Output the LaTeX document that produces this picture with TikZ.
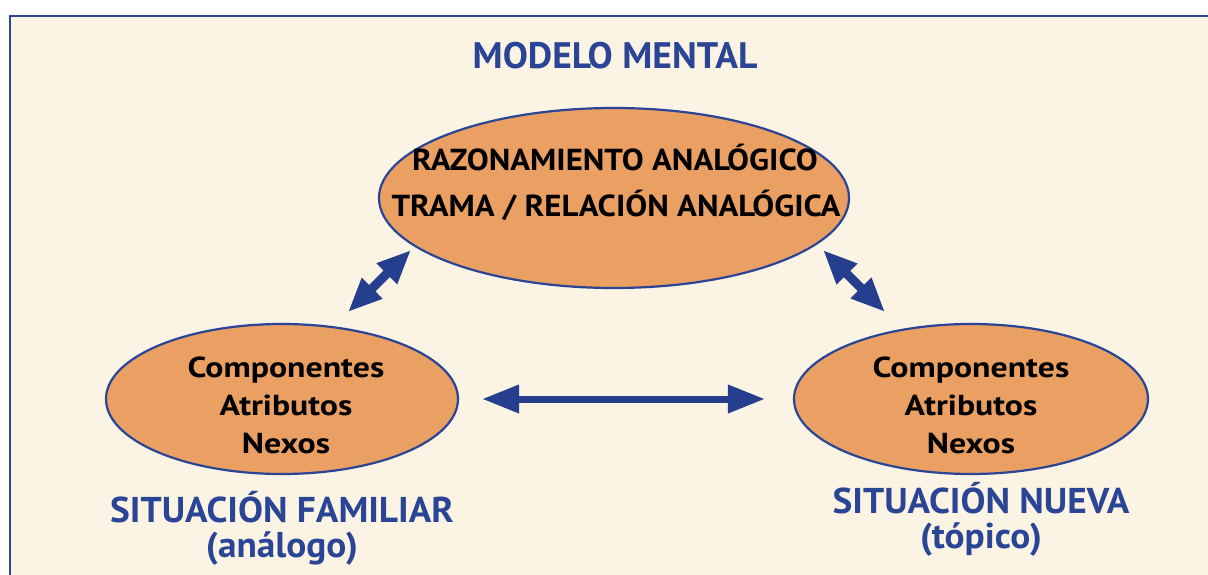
\documentclass[tikz,border=0pt]{standalone}
\usepackage{fontspec}
\setmainfont{PT Sans}
\newfontfamily\titlefont{PT Sans}[FakeStretch=1.02]
\newfontfamily\labelfont{PT Sans}[FakeStretch=1.04]
\newfontfamily\bigfont{PT Sans}[FakeStretch=1.08]
\newfontfamily\smallfont{PT Sans}[FakeStretch=1.17]
\usetikzlibrary{shapes.geometric,arrows.meta}
\definecolor{bgcream}{HTML}{FBF3E4}
\definecolor{frameblue}{HTML}{2A4595}
\definecolor{arrowblue}{HTML}{253F8E}
\definecolor{ovalfill}{HTML}{EAA062}
\tikzset{
  oval/.style={ellipse, draw=frameblue, line width=2.2bp, fill=ovalfill, inner sep=0pt},
  titletext/.style={anchor=base, text=frameblue, font=\titlefont\bfseries\fontsize{37}{37}\selectfont, inner sep=0pt},
  labeltext/.style={anchor=base, align=center, text=frameblue, font=\labelfont\bfseries\fontsize{36}{32}\selectfont, inner sep=0pt},
  bigtext/.style={anchor=base, text=black, font=\bigfont\bfseries\fontsize{30.5}{30}\selectfont, inner sep=0pt},
  smalltext/.style={anchor=base, text=black, font=\smallfont\bfseries\fontsize{29}{29}\selectfont, inner sep=0pt},
  hlink/.style={arrowblue, line width=7bp, {Triangle[length=37bp,width=27bp]}-{Triangle[length=37bp,width=27bp]}},
  dlink/.style={arrowblue, line width=9bp, {Triangle[length=34bp,width=27bp]}-{Triangle[length=34bp,width=27bp]}},
}
\begin{document}
\begin{tikzpicture}[x=1bp,y=-1bp]
\useasboundingbox (0,0) rectangle (1208,575);
\clip (0,0) rectangle (1208,575);
\fill[white] (0,0) rectangle (1208,575);
\draw[frameblue, line width=2bp, fill=bgcream] (10,16) rectangle (1230,600);

\node[titletext] (title) at (615,69) {MODELO MENTAL};

\node[oval, minimum width=470bp, minimum height=180bp] (top) at (614,198) {};
\node[oval, minimum width=352bp, minimum height=150bp] (left) at (282,399) {};
\node[oval, minimum width=354bp, minimum height=150bp] (right) at (971,399) {};

\node[bigtext, text depth=0pt] (t1) at (615,171) {RAZONAMIENTO ANALÓGICO};
\node[bigtext] (t2) at (616,217) {TRAMA / RELACIÓN ANALÓGICA};

\node[smalltext, text depth=0pt] (l1) at (286,377) {Componentes};
\node[smalltext, text depth=0pt] (l2) at (286,415) {Atributos};
\node[smalltext] (l3) at (286,453) {Nexos};

\node[smalltext, text depth=0pt] (r1) at (971,377) {Componentes};
\node[smalltext, text depth=0pt] (r2) at (971,415) {Atributos};
\node[smalltext] (r3) at (971,453) {Nexos};

\node[labeltext] (fam) at (282,557) {SITUACIÓN FAMILIAR\\[2.5bp](análogo)};
\node[labeltext] (nue) at (981,548) {SITUACIÓN NUEVA\\[3bp](tópico)};

\coordinate (a1) at (348,312);
\coordinate (a2) at (411,250);
\coordinate (b1) at (823,250);
\coordinate (b2) at (885,312);
\draw[dlink] (a1) -- (a2);
\draw[dlink] (b1) -- (b2);
\draw[hlink] ([xshift=23bp]left.east) -- ([xshift=-28bp]right.west);
\end{tikzpicture}
\end{document}
